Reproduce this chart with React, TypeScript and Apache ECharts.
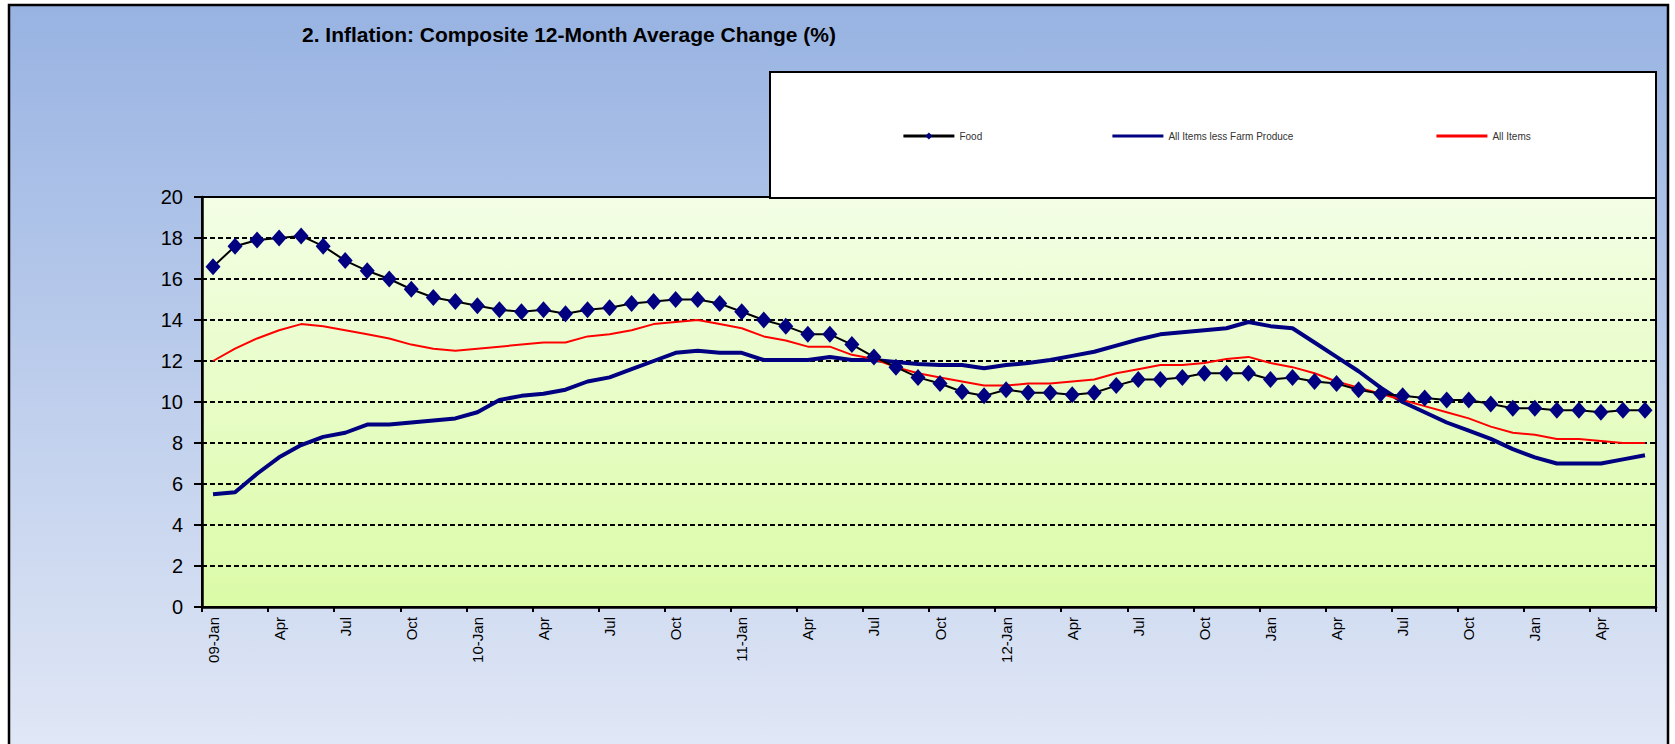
import React, { useEffect, useRef } from "react";
import * as echarts from "echarts";

const titleText = "2. Inflation: Composite 12-Month Average Change (%)";

const categories = [
  "09-Jan", "Feb", "Mar", "Apr", "May", "Jun", "Jul", "Aug", "Sep", "Oct", "Nov", "Dec",
  "10-Jan", "Feb", "Mar", "Apr", "May", "Jun", "Jul", "Aug", "Sep", "Oct", "Nov", "Dec",
  "11-Jan", "Feb", "Mar", "Apr", "May", "Jun", "Jul", "Aug", "Sep", "Oct", "Nov", "Dec",
  "12-Jan", "Feb", "Mar", "Apr", "May", "Jun", "Jul", "Aug", "Sep", "Oct", "Nov", "Dec",
  "Jan", "Feb", "Mar", "Apr", "May", "Jun", "Jul", "Aug", "Sep", "Oct", "Nov", "Dec",
  "Jan", "Feb", "Mar", "Apr", "May", "Jun",
];

const food = [
  16.6, 17.6, 17.9, 18.0, 18.1, 17.6, 16.9, 16.4, 16.0, 15.5, 15.1, 14.9,
  14.7, 14.5, 14.4, 14.5, 14.3, 14.5, 14.6, 14.8, 14.9, 15.0, 15.0, 14.8,
  14.4, 14.0, 13.7, 13.3, 13.3, 12.8, 12.2, 11.7, 11.2, 10.9, 10.5, 10.3,
  10.6, 10.45, 10.45, 10.35, 10.45, 10.8, 11.1, 11.1, 11.2, 11.4, 11.4, 11.4,
  11.1, 11.2, 11.0, 10.9, 10.6, 10.4, 10.3, 10.2, 10.1, 10.1, 9.9, 9.7,
  9.7, 9.6, 9.6, 9.5, 9.6, 9.6,
];

const allItemsLessFarm = [
  5.5, 5.6, 6.5, 7.3, 7.9, 8.3, 8.5, 8.9, 8.9, 9.0, 9.1, 9.2,
  9.5, 10.1, 10.3, 10.4, 10.6, 11.0, 11.2, 11.6, 12.0, 12.4, 12.5, 12.4,
  12.4, 12.05, 12.05, 12.05, 12.2, 12.05, 12.05, 11.95, 11.85, 11.8, 11.8, 11.65,
  11.8, 11.9, 12.05, 12.25, 12.45, 12.75, 13.05, 13.3, 13.4, 13.5, 13.6, 13.9,
  13.7, 13.6, 12.9, 12.2, 11.5, 10.7, 10.0, 9.5, 9.0, 8.6, 8.2, 7.7,
  7.3, 7.0, 7.0, 7.0, 7.2, 7.4,
];

const allItems = [
  12.0, 12.6, 13.1, 13.5, 13.8, 13.7, 13.5, 13.3, 13.1, 12.8, 12.6, 12.5,
  12.6, 12.7, 12.8, 12.9, 12.9, 13.2, 13.3, 13.5, 13.8, 13.9, 14.0, 13.8,
  13.6, 13.2, 13.0, 12.7, 12.7, 12.3, 12.1, 11.7, 11.4, 11.2, 11.0, 10.8,
  10.8, 10.9, 10.9, 11.0, 11.1, 11.4, 11.6, 11.8, 11.8, 11.9, 12.1, 12.2,
  11.9, 11.7, 11.4, 11.0, 10.7, 10.4, 10.1, 9.8, 9.5, 9.2, 8.8, 8.5,
  8.4, 8.2, 8.2, 8.1, 8.0, 8.0,
];

const seriesNames = ["Food", "All Items less Farm Produce", "All Items"];

const FONT = "Arial, 'Liberation Sans', sans-serif";

export default function App() {
  const ref = useRef<HTMLDivElement>(null);

  useEffect(() => {
    const chart = echarts.init(ref.current as HTMLDivElement, null, { renderer: "svg" });

    const legendBase = {
      top: 131,
      itemWidth: 51,
      itemHeight: 9,
      padding: 0,
      textStyle: { fontSize: 10, color: "#333", fontFamily: FONT },
      lineStyle: { width: 2.8 },
    };
    const hiddenSymbol = {
      color: "rgba(0,0,0,0)",
      borderColor: "rgba(0,0,0,0)",
      borderWidth: 0,
    };

    chart.setOption({
      animation: false,
      backgroundColor: "#ffffff",
      title: {
        text: titleText,
        left: 302,
        top: 24,
        padding: 0,
        textStyle: { fontSize: 21, fontWeight: "bold", color: "#000", fontFamily: FONT },
      },
      graphic: [
        {
          type: "rect",
          z: -10,
          silent: true,
          shape: { x: 9, y: 5, width: 1659, height: 770 },
          style: {
            fill: new echarts.graphic.LinearGradient(0, 0, 0, 1, [
              { offset: 0, color: "#98B3E2" },
              { offset: 1, color: "#E3E9F6" },
            ]),
            stroke: "#000",
            lineWidth: 2.5,
          },
        },
        {
          type: "rect",
          z: 1,
          silent: true,
          shape: { x: 770, y: 72, width: 886, height: 126 },
          style: { fill: "#ffffff", stroke: "#000", lineWidth: 2 },
        },
      ],
      legend: [
        { ...legendBase, left: 902, data: [seriesNames[0]] },
        { ...legendBase, left: 1111, data: [seriesNames[1]], itemStyle: hiddenSymbol },
        { ...legendBase, left: 1435, data: [seriesNames[2]], itemStyle: hiddenSymbol },
      ],
      grid: {
        left: 202,
        top: 197,
        width: 1454,
        height: 410,
        show: true,
        borderColor: "#000",
        borderWidth: 2,
        backgroundColor: new echarts.graphic.LinearGradient(0, 0, 0, 1, [
          { offset: 0, color: "#F3FEE5" },
          { offset: 1, color: "#DBFBA7" },
        ]),
      },
      xAxis: {
        type: "category",
        data: categories,
        boundaryGap: true,
        axisLine: { show: true, lineStyle: { color: "#000", width: 2.5 } },
        axisTick: { show: true, interval: 2, length: 5, lineStyle: { color: "#000", width: 2 } },
        axisLabel: {
          interval: 2,
          rotate: 90,
          margin: 10,
          fontSize: 15,
          color: "#000",
          fontFamily: FONT,
        },
        splitLine: { show: false },
      },
      yAxis: {
        type: "value",
        min: 0,
        max: 20,
        interval: 2,
        axisLine: { show: true, lineStyle: { color: "#000", width: 2.5 } },
        axisTick: { show: true, length: 8, lineStyle: { color: "#000", width: 2 } },
        axisLabel: { margin: 19, fontSize: 20, color: "#000", fontFamily: FONT },
        splitLine: { show: true, lineStyle: { color: "#000", width: 1.8, type: [5, 3] } },
      },
      series: [
        {
          name: seriesNames[1],
          type: "line",
          data: allItemsLessFarm,
          symbol: "none",
          z: 2,
          lineStyle: { color: "#000080", width: 4 },
          itemStyle: { color: "#000080" },
        },
        {
          name: seriesNames[2],
          type: "line",
          data: allItems,
          symbol: "none",
          z: 3,
          lineStyle: { color: "#FF0000", width: 2 },
          itemStyle: { color: "#FF0000" },
        },
        {
          name: seriesNames[0],
          type: "line",
          data: food,
          symbol: "diamond",
          symbolSize: [15, 17],
          showSymbol: true,
          showAllSymbol: true,
          z: 4,
          lineStyle: { color: "#000000", width: 2 },
          itemStyle: { color: "#000080", borderWidth: 0 },
        },
      ],
    });

    return () => chart.dispose();
  }, []);

  return (
    <div
      ref={ref}
      style={{ position: "fixed", left: 0, top: 0, width: 1675, height: 744, background: "#fff" }}
    />
  );
}
